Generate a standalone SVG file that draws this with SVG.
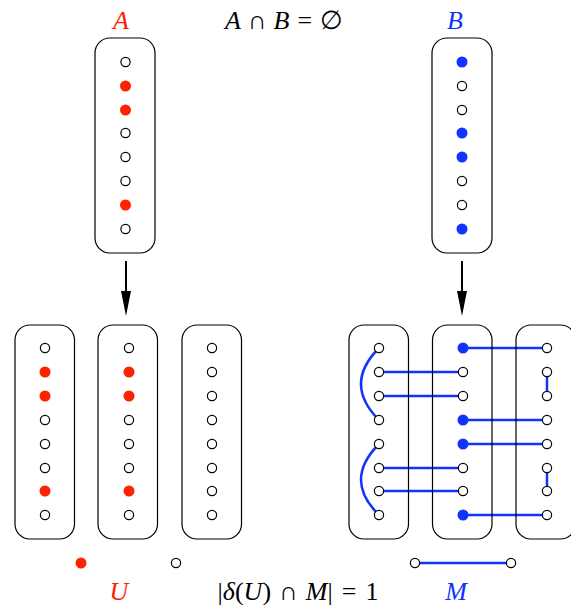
<svg xmlns="http://www.w3.org/2000/svg" width="571" height="605" viewBox="0 0 571 605">
<style>
.box{fill:none;stroke:#000;stroke-width:1.2}
.o{fill:#fff;stroke:#000;stroke-width:1.2}
.r{fill:#ff2200}
.b{fill:#1133ff}
.e{stroke:#1133ff;stroke-width:2.5;fill:none}
.arr{stroke:#000;stroke-width:2}
.t{font-family:"Liberation Serif","DejaVu Serif",serif;font-size:26px}
.i{font-style:italic}
</style>
<rect width="571" height="605" fill="#fff"/>

<g id="labels" class="t">
<text x="121" y="29" text-anchor="middle" class="i" fill="#ff2200">A</text>
<text x="455" y="29" text-anchor="middle" class="i" fill="#1133ff">B</text>
<text x="284" y="29" text-anchor="middle"><tspan class="i">A</tspan><tspan dx="7">∩</tspan><tspan class="i" dx="7">B</tspan><tspan dx="8">=</tspan><tspan dx="8">∅</tspan></text>
<text x="119" y="600" text-anchor="middle" class="i" fill="#ff2200">U</text>
<text x="456" y="600" text-anchor="middle" class="i" fill="#1133ff">M</text>
<text x="298" y="600" text-anchor="middle">|<tspan class="i">δ</tspan>(<tspan class="i">U</tspan>)<tspan dx="8">∩</tspan><tspan class="i" dx="8">M</tspan>|<tspan dx="9">=</tspan><tspan dx="9">1</tspan></text>
</g>

<g id="connectors">
<line class="arr" x1="126" y1="261" x2="126" y2="292"/>
<path d="M121,291 L131,291 L126,316 z" fill="#000"/>
<line class="arr" x1="462" y1="261" x2="462" y2="292"/>
<path d="M457,291 L467,291 L462,316 z" fill="#000"/>
<path class="e" d="M379,348 Q343,384 379,420"/>
<path class="e" d="M379,444 Q343,480 379,515"/>
<line class="e" x1="379" y1="372" x2="463" y2="372"/>
<line class="e" x1="379" y1="396" x2="463" y2="396"/>
<line class="e" x1="379" y1="468" x2="463" y2="468"/>
<line class="e" x1="379" y1="491" x2="463" y2="491"/>
<line class="e" x1="463" y1="348" x2="547" y2="348"/>
<line class="e" x1="463" y1="420" x2="547" y2="420"/>
<line class="e" x1="463" y1="444" x2="547" y2="444"/>
<line class="e" x1="463" y1="515" x2="547" y2="515"/>
<line class="e" x1="547" y1="372" x2="547" y2="396"/>
<line class="e" x1="547" y1="468" x2="547" y2="491"/>
<line class="e" x1="415" y1="563" x2="511" y2="563"/>
</g>

<g id="setA">
<rect class="box" x="95" y="38" width="60" height="215" rx="15"/>
<circle class="o" cx="125.5" cy="62" r="4.6"/>
<circle class="r" cx="125.5" cy="86" r="5.5"/>
<circle class="r" cx="125.5" cy="110" r="5.5"/>
<circle class="o" cx="125.5" cy="133" r="4.6"/>
<circle class="o" cx="125.5" cy="157" r="4.6"/>
<circle class="o" cx="125.5" cy="181" r="4.6"/>
<circle class="r" cx="125.5" cy="205" r="5.5"/>
<circle class="o" cx="125.5" cy="229" r="4.6"/>
</g>

<g id="setB">
<rect class="box" x="432" y="38" width="60" height="215" rx="15"/>
<circle class="b" cx="462" cy="62" r="5.5"/>
<circle class="o" cx="462" cy="86" r="4.6"/>
<circle class="o" cx="462" cy="110" r="4.6"/>
<circle class="b" cx="462" cy="133" r="5.5"/>
<circle class="b" cx="462" cy="157" r="5.5"/>
<circle class="o" cx="462" cy="181" r="4.6"/>
<circle class="o" cx="462" cy="205" r="4.6"/>
<circle class="b" cx="462" cy="229" r="5.5"/>
</g>

<g id="L1">
<rect class="box" x="15" y="325" width="59.5" height="214" rx="15"/>
<circle class="o" cx="45" cy="348" r="4.6"/>
<circle class="r" cx="45" cy="372" r="5.5"/>
<circle class="r" cx="45" cy="396" r="5.5"/>
<circle class="o" cx="45" cy="420" r="4.6"/>
<circle class="o" cx="45" cy="444" r="4.6"/>
<circle class="o" cx="45" cy="468" r="4.6"/>
<circle class="r" cx="45" cy="491" r="5.5"/>
<circle class="o" cx="45" cy="515" r="4.6"/>
</g>

<g id="L2">
<rect class="box" x="98" y="325" width="59.5" height="214" rx="15"/>
<circle class="o" cx="129" cy="348" r="4.6"/>
<circle class="r" cx="129" cy="372" r="5.5"/>
<circle class="r" cx="129" cy="396" r="5.5"/>
<circle class="o" cx="129" cy="420" r="4.6"/>
<circle class="o" cx="129" cy="444" r="4.6"/>
<circle class="o" cx="129" cy="468" r="4.6"/>
<circle class="r" cx="129" cy="491" r="5.5"/>
<circle class="o" cx="129" cy="515" r="4.6"/>
</g>

<g id="L3">
<rect class="box" x="182" y="325" width="59.5" height="214" rx="15"/>
<circle class="o" cx="212" cy="348" r="4.6"/>
<circle class="o" cx="212" cy="372" r="4.6"/>
<circle class="o" cx="212" cy="396" r="4.6"/>
<circle class="o" cx="212" cy="420" r="4.6"/>
<circle class="o" cx="212" cy="444" r="4.6"/>
<circle class="o" cx="212" cy="468" r="4.6"/>
<circle class="o" cx="212" cy="491" r="4.6"/>
<circle class="o" cx="212" cy="515" r="4.6"/>
</g>

<g id="R1">
<rect class="box" x="349" y="325" width="59.5" height="214" rx="15"/>
<circle class="o" cx="379" cy="348" r="4.6"/>
<circle class="o" cx="379" cy="372" r="4.6"/>
<circle class="o" cx="379" cy="396" r="4.6"/>
<circle class="o" cx="379" cy="420" r="4.6"/>
<circle class="o" cx="379" cy="444" r="4.6"/>
<circle class="o" cx="379" cy="468" r="4.6"/>
<circle class="o" cx="379" cy="491" r="4.6"/>
<circle class="o" cx="379" cy="515" r="4.6"/>
</g>

<g id="R2">
<rect class="box" x="432.5" y="325" width="59.5" height="214" rx="15"/>
<circle class="b" cx="463" cy="348" r="5.5"/>
<circle class="o" cx="463" cy="372" r="4.6"/>
<circle class="o" cx="463" cy="396" r="4.6"/>
<circle class="b" cx="463" cy="420" r="5.5"/>
<circle class="b" cx="463" cy="444" r="5.5"/>
<circle class="o" cx="463" cy="468" r="4.6"/>
<circle class="o" cx="463" cy="491" r="4.6"/>
<circle class="b" cx="463" cy="515" r="5.5"/>
</g>

<g id="R3">
<rect class="box" x="516" y="325" width="59.5" height="214" rx="15"/>
<circle class="o" cx="547" cy="348" r="4.6"/>
<circle class="o" cx="547" cy="372" r="4.6"/>
<circle class="o" cx="547" cy="396" r="4.6"/>
<circle class="o" cx="547" cy="420" r="4.6"/>
<circle class="o" cx="547" cy="444" r="4.6"/>
<circle class="o" cx="547" cy="468" r="4.6"/>
<circle class="o" cx="547" cy="491" r="4.6"/>
<circle class="o" cx="547" cy="515" r="4.6"/>
</g>

<g id="legend">
<circle class="r" cx="81" cy="563" r="5.5"/>
<circle class="o" cx="176" cy="563" r="4.6"/>
<circle class="o" cx="415" cy="563" r="4.6"/>
<circle class="o" cx="511" cy="563" r="4.6"/>
</g>
</svg>
